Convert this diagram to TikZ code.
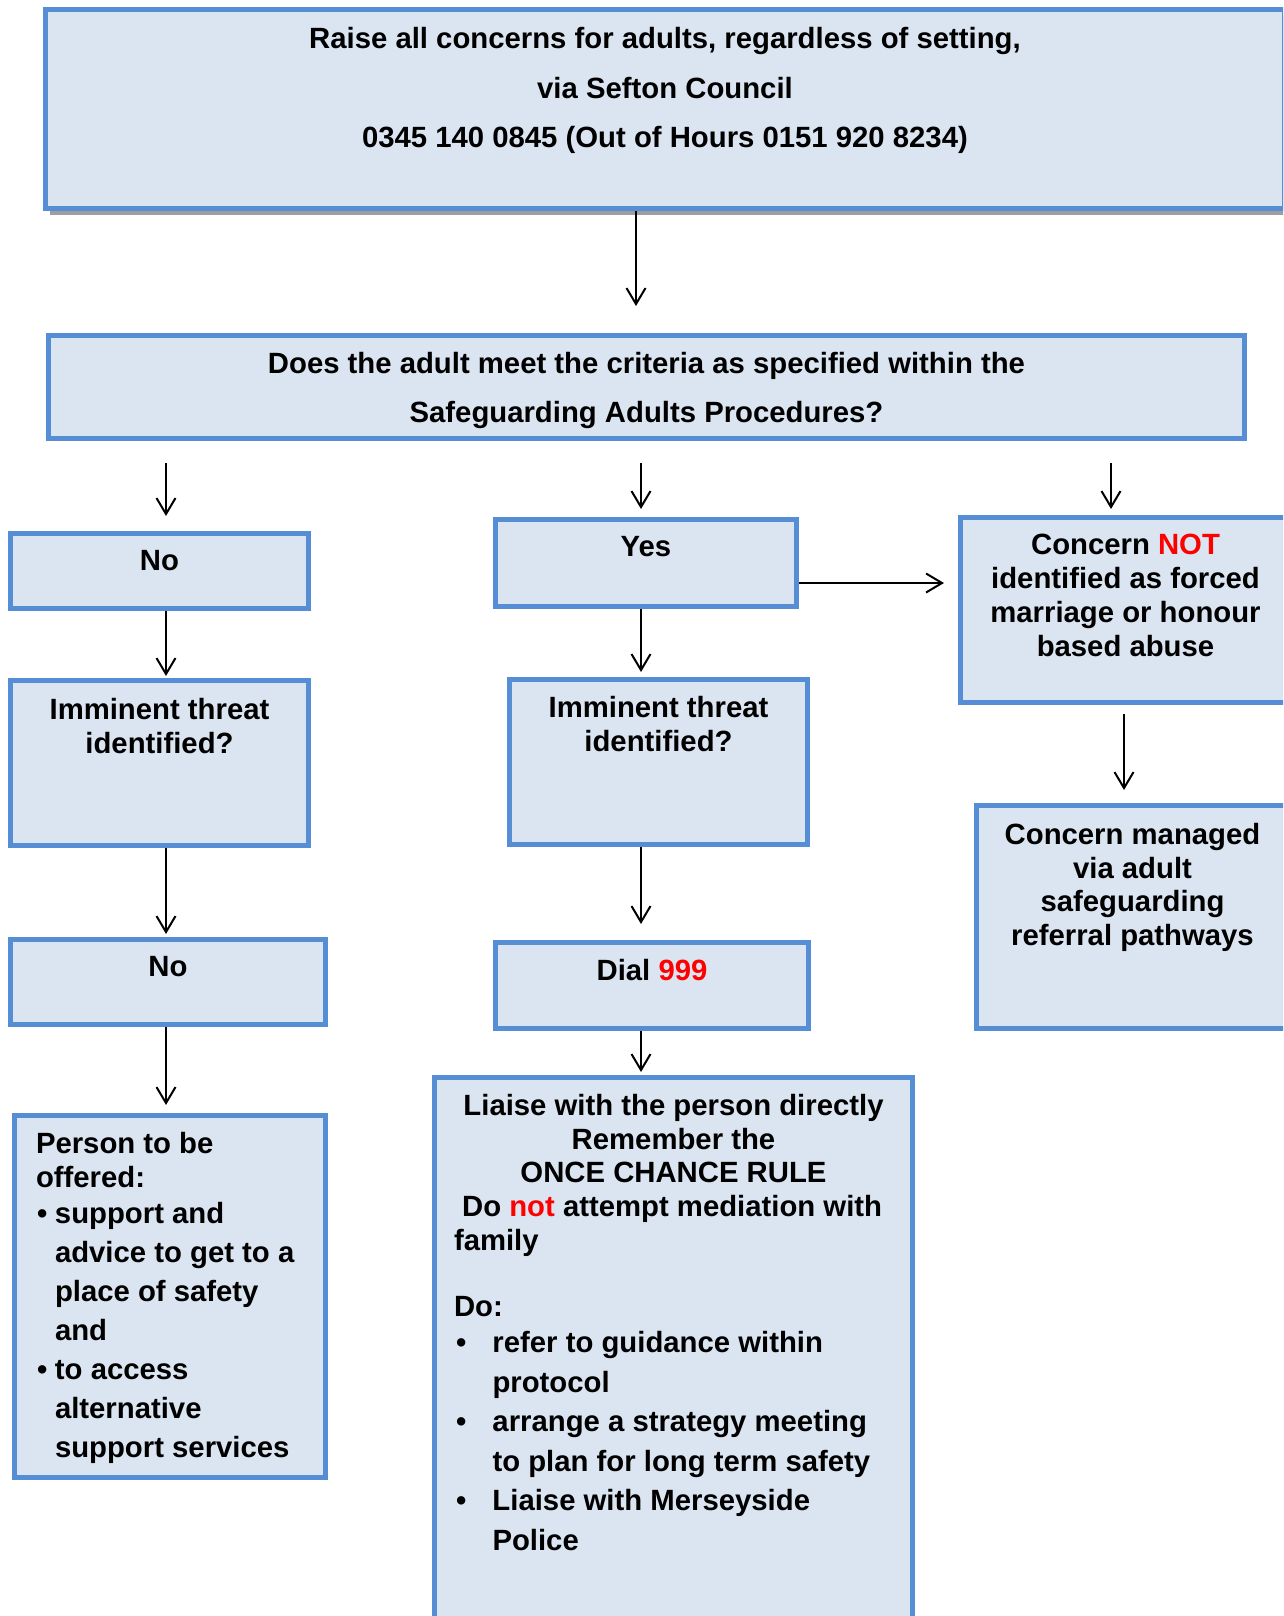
\documentclass[tikz,border=0pt]{standalone}
\usepackage{fontspec}
\setmainfont{Liberation Sans}
\usetikzlibrary{arrows.meta, shadows}
\definecolor{boxblue}{HTML}{558ED5}
\definecolor{boxfill}{HTML}{DBE5F1}
\definecolor{alertred}{HTML}{FF0000}
\newcommand{\flowtext}[4]{\parbox[t][#1][t]{#2}{\vspace*{#3}#4}}

\begin{document}
\begin{tikzpicture}[
    x=1pt, y=-1pt,
    font=\fontsize{29.3}{33.7}\selectfont\bfseries,
    flowbox/.style={draw=boxblue, fill=boxfill, line width=5pt, inner sep=0pt, anchor=north west},
    flowarrow/.style={-{Straight Barb[length=16pt, width=19pt]}, line width=2pt, black},
    topshadow/.style={drop shadow={shadow xshift=4pt, shadow yshift=-6pt, fill=black!38, opacity=1}}
]
\useasboundingbox (0,0) rectangle (1283,1616);
\clip (0,0) rectangle (1283,1616);
%
\node[flowbox, topshadow] (top) at (43,7)
    {\flowtext{199pt}{1239pt}{18pt}{\centering\baselineskip=49.5pt
     Raise all concerns for adults, regardless of setting,\\
     via Sefton Council\\
     0345 140 0845 (Out of Hours 0151 920 8234)}};
\node[flowbox] (crit) at (46,333)
    {\flowtext{103pt}{1196pt}{17pt}{\centering\baselineskip=49pt
     Does the adult meet the criteria as specified within the\\
     Safeguarding Adults Procedures?}};

%
\node[flowbox] (noA) at (8,531) {\flowtext{75pt}{298pt}{17pt}{\centering No}};
\node[flowbox] (threatA) at (8,678) {\flowtext{165pt}{298pt}{18pt}{\centering Imminent threat\\identified?}};
\node[flowbox] (noB) at (8,937) {\flowtext{85pt}{315pt}{17pt}{\centering No}};
\node[flowbox] (offer) at (12,1113)
    {\flowtext{362pt}{311pt}{17pt}{\raggedright\leftskip=21.5pt
     Person to be\\
     offered:\par
     \baselineskip=39pt\vspace{-3pt}\leftskip=40.5pt
     \leavevmode\llap{\textbullet\hspace{7.5pt}}support and\\
     advice to get to a\\
     place of safety\\
     and\\
     \leavevmode\llap{\textbullet\hspace{7.5pt}}to access\\
     alternative\\
     support services}};

%
\node[flowbox] (yes) at (493,517) {\flowtext{87pt}{301pt}{17pt}{\centering Yes}};
\node[flowbox] (threatB) at (507,677) {\flowtext{165pt}{298pt}{17pt}{\centering Imminent threat\\identified?}};
\node[flowbox] (dial) at (493,940) {\flowtext{86pt}{313pt}{17pt}{\centering Dial \textcolor{alertred}{999}}};
\node[flowbox] (liaise) at (432,1075)
    {\flowtext{570pt}{478pt}{16.7pt}{\centering
     Liaise with the person directly\\
     Remember the\\
     ONCE CHANCE RULE\\
     \raggedright\leftskip=19.5pt
     \ Do \textcolor{alertred}{not} attempt mediation with\\
     family\\[33pt]
     Do:\par
     \baselineskip=39.5pt\vspace{-3.5pt}\leftskip=58pt
     \leavevmode\llap{\textbullet\hspace{26pt}}refer to guidance within\\
     protocol\\
     \leavevmode\llap{\textbullet\hspace{26pt}}arrange a strategy meeting\\
     to plan for long term safety\\
     \leavevmode\llap{\textbullet\hspace{26pt}}Liaise with Merseyside\\
     Police}};

%
\node[flowbox] (notfm) at (958,515)
    {\flowtext{185pt}{330pt}{17pt}{\centering
     Concern \textcolor{alertred}{NOT}\\
     identified as forced\\
     marriage or honour\\
     based abuse}};
\node[flowbox] (managed) at (974,803)
    {\flowtext{223pt}{312pt}{17.7pt}{\centering
     Concern managed\\
     via adult\\
     safeguarding\\
     referral pathways}};

%
\coordinate (colTop) at (636,0);
\coordinate (colL) at (166,0);
\coordinate (colM) at (641,0);
\coordinate (colR) at (1111,0);
\coordinate (colRR) at (1124,0);
\coordinate (rowYes) at (0,583);
\draw[flowarrow, shorten >=27pt] (top.south -| colTop) -- (crit.north -| colTop);
\draw[flowarrow, shorten <=22pt, shorten >=15pt] (crit.south -| colL) -- (noA.north -| colL);
\draw[flowarrow, shorten <=22pt, shorten >=8pt] (crit.south -| colM) -- (yes.north -| colM);
\draw[flowarrow, shorten <=22pt, shorten >=6pt] (crit.south -| colR) -- (notfm.north -| colR);
\draw[flowarrow, shorten >=2pt] (noA.south -| colL) -- (threatA.north -| colL);
\draw[flowarrow, shorten >=3pt] (threatA.south -| colL) -- (noB.north -| colL);
\draw[flowarrow, shorten >=8pt] (noB.south -| colL) -- (offer.north -| colL);
\draw[flowarrow, shorten >=14pt] (yes.east |- rowYes) -- (notfm.west |- rowYes);
\draw[flowarrow, shorten >=5pt] (yes.south -| colM) -- (threatB.north -| colM);
\draw[flowarrow, shorten >=16pt] (threatB.south -| colM) -- (dial.north -| colM);
\draw[flowarrow, shorten >=3pt] (dial.south -| colM) -- (liaise.north -| colM);
\draw[flowarrow, shorten <=9pt, shorten >=13pt] (notfm.south -| colRR) -- (managed.north -| colRR);
\end{tikzpicture}
\end{document}
